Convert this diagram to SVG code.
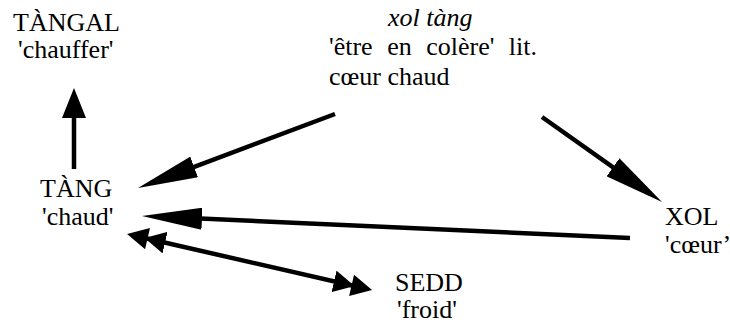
<svg xmlns="http://www.w3.org/2000/svg" width="730" height="324" viewBox="0 0 730 324">
<style>
text{font-family:'Liberation Serif','Times New Roman','DejaVu Serif',serif;font-size:26px;fill:#000}
.it{font-style:italic}
.ln{stroke:#000;stroke-width:4.5;fill:none}
</style>
<defs>
<marker id="big" markerUnits="userSpaceOnUse" markerWidth="60" markerHeight="22" refX="46" refY="11" orient="auto" viewBox="0 0 60 22"><path d="M0,0 L60,11 L0,22 Z" fill="#000"/></marker>
<marker id="small" markerUnits="userSpaceOnUse" markerWidth="30" markerHeight="24" refX="22" refY="12" orient="auto" viewBox="0 0 30 24"><path d="M0,0 L30,12 L0,24 Z" fill="#000"/></marker>
<marker id="dbl" markerUnits="userSpaceOnUse" markerWidth="39" markerHeight="22" refX="33" refY="11" orient="auto-start-reverse" viewBox="0 0 39 22"><path d="M0,0 L21,11 L0,22 Z M18,0 L39,11 L18,22 Z" fill="#000"/></marker>
</defs>
<rect width="730" height="324" fill="#fff"/>
<g id="connectors">
<line class="ln" x1="74" y1="169" x2="74" y2="96" marker-end="url(#small)"/>
<line class="ln" x1="335" y1="114" x2="151.1" y2="183.1" marker-end="url(#big)"/>
<line class="ln" x1="630" y1="238" x2="156" y2="216.6" marker-end="url(#big)"/>
<line class="ln" x1="542" y1="117" x2="650.6" y2="193.9" marker-end="url(#big)"/>
<line class="ln" x1="132.9" y1="235.3" x2="366.2" y2="288.7" marker-start="url(#dbl)" marker-end="url(#dbl)"/>
</g>
<g id="tangal"><text x="13" y="31">TÀNGAL</text><text x="18" y="58">'chauffer'</text></g>
<g id="xoltang"><text class="it" x="388" y="26">xol tàng</text><text x="329" y="55" word-spacing="8">'être en colère' lit.</text><text x="329" y="85">cœur chaud</text></g>
<g id="tang"><text x="40" y="197">TÀNG</text><text x="42" y="225">'chaud'</text></g>
<g id="xol"><text x="665" y="225">XOL</text><text x="665" y="253">'cœur’</text></g>
<g id="sedd"><text x="395" y="291">SEDD</text><text x="397" y="318">'froid'</text></g>
</svg>
